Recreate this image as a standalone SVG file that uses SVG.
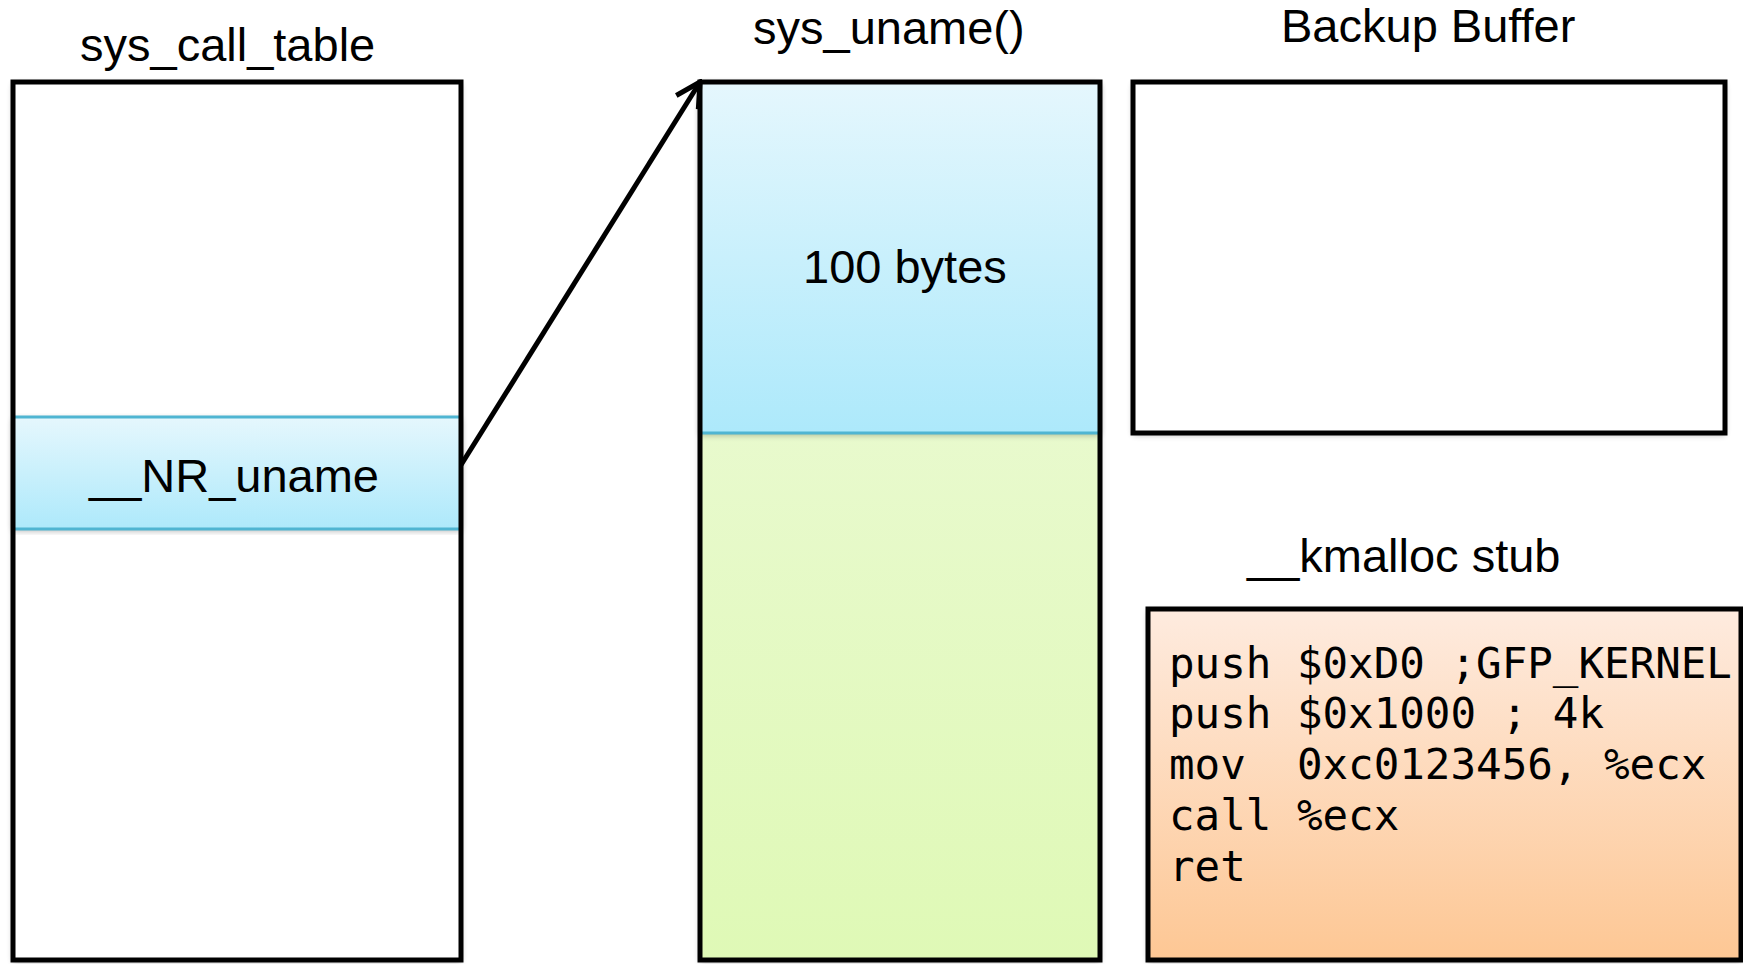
<svg xmlns="http://www.w3.org/2000/svg" width="1743" height="964" viewBox="0 0 1743 964">
  <style>
    .title { font-family: "Liberation Sans", Arial, sans-serif; font-size: 47px; fill: #000; }
    .code { font-family: "DejaVu Sans Mono", monospace; font-size: 42.5px; fill: #000; white-space: pre; }
    .frame { fill: none; stroke: #000; stroke-width: 5; }
    .band-edge { stroke: #4fb5d2; stroke-width: 3; }
    .link { fill: none; stroke: #000; stroke-width: 5; }
  </style>
  <defs>
    <linearGradient id="gBlue" x1="0" y1="0" x2="0" y2="1">
      <stop offset="0" stop-color="#e5f7fd"/>
      <stop offset="1" stop-color="#ade9fb"/>
    </linearGradient>
    <linearGradient id="gGreen" x1="0" y1="0" x2="0" y2="1">
      <stop offset="0" stop-color="#eefadc"/>
      <stop offset="1" stop-color="#dff9b6"/>
    </linearGradient>
    <linearGradient id="gOrange" x1="0" y1="0" x2="0" y2="1">
      <stop offset="0" stop-color="#feebdf"/>
      <stop offset="1" stop-color="#fdc794"/>
    </linearGradient>
    <filter id="soft" x="-5%" y="-5%" width="110%" height="110%">
      <feGaussianBlur in="SourceAlpha" stdDeviation="3"/>
      <feOffset dy="2" result="b"/>
      <feComponentTransfer><feFuncA type="linear" slope="0.3"/></feComponentTransfer>
      <feMerge><feMergeNode/><feMergeNode in="SourceGraphic"/></feMerge>
    </filter>
    <marker id="chevron" viewBox="0 0 32 32" refX="29" refY="16" markerWidth="32" markerHeight="32" markerUnits="userSpaceOnUse" orient="auto">
      <path d="M5,3 L29,16 L5,29" fill="none" stroke="#000" stroke-width="5" stroke-linejoin="miter"/>
    </marker>
  </defs>

  <!-- syscall table with the uname slot -->
  <g id="sys_call_table">
    <text class="title" x="80" y="61">sys_call_table</text>
    <rect x="13" y="82" width="448" height="878" fill="#fff" filter="url(#soft)"/>
    <rect x="13" y="417" width="448" height="112" fill="url(#gBlue)" filter="url(#soft)"/>
    <line class="band-edge" x1="13" y1="417" x2="461" y2="417"/>
    <line class="band-edge" x1="13" y1="529" x2="461" y2="529"/>
    <text class="title" x="89" y="492">__NR_uname</text>
    <rect class="frame" x="13" y="82" width="448" height="878"/>
  </g>

  <!-- sys_uname body: first 100 bytes + remainder -->
  <g id="sys_uname">
    <text class="title" x="753" y="44">sys_uname()</text>
    <rect x="700" y="82" width="400" height="878" fill="url(#gGreen)" filter="url(#soft)"/>
    <rect x="700" y="82" width="400" height="351" fill="url(#gBlue)" filter="url(#soft)"/>
    <line class="band-edge" x1="700" y1="433" x2="1100" y2="433"/>
    <text class="title" x="803" y="283">100 bytes</text>
    <rect class="frame" x="700" y="82" width="400" height="878"/>
  </g>

  <!-- backup buffer -->
  <g id="backup_buffer">
    <text class="title" x="1281" y="42">Backup Buffer</text>
    <rect x="1133" y="82" width="592" height="351" fill="#fff" filter="url(#soft)"/>
    <rect class="frame" x="1133" y="82" width="592" height="351"/>
  </g>

  <!-- kmalloc stub -->
  <g id="kmalloc_stub">
    <text class="title" x="1247" y="572">__kmalloc stub</text>
    <rect x="1148" y="609" width="593" height="351" fill="url(#gOrange)" filter="url(#soft)"/>
    <rect class="frame" x="1148" y="609" width="593" height="351"/>
    <text class="code" x="1169" y="678">push $0xD0 ;GFP_KERNEL</text>
    <text class="code" x="1169" y="728">push $0x1000 ; 4k</text>
    <text class="code" x="1169" y="779">mov  0xc0123456, %ecx</text>
    <text class="code" x="1169" y="830">call %ecx</text>
    <text class="code" x="1169" y="881">ret</text>
  </g>

  <!-- table entry points at sys_uname -->
  <g id="connectors">
    <line class="link" x1="461" y1="465" x2="700" y2="82" marker-end="url(#chevron)"/>
  </g>
</svg>
